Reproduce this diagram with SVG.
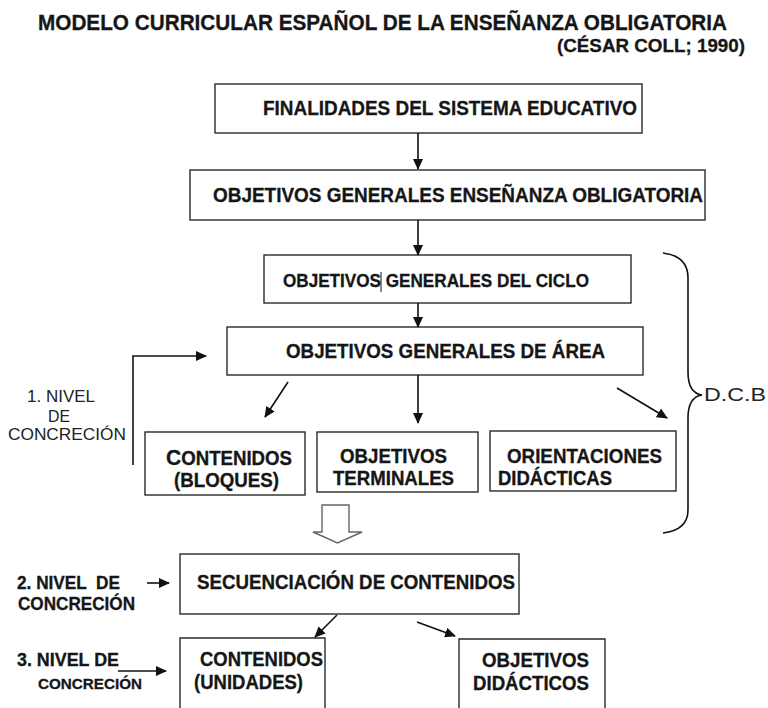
<svg xmlns="http://www.w3.org/2000/svg" width="768" height="708" viewBox="0 0 768 708">
<defs>
<style>
.box{fill:#fff;stroke:#2a2a2a;stroke-width:1.4}
.t{font-family:"Liberation Sans",Arial,sans-serif;font-weight:bold;fill:#161616;stroke:#161616;stroke-width:0.3}
.r{font-family:"Liberation Sans",Arial,sans-serif;fill:#222}
.ln{fill:none;stroke:#111;stroke-width:1.6}
</style>
<marker id="ah" markerUnits="userSpaceOnUse" markerWidth="11" markerHeight="10" refX="10" refY="5" orient="auto" viewBox="0 0 11 10">
<path d="M0,0 L11,5 L0,10 z" fill="#111"/>
</marker>
</defs>
<rect width="768" height="708" fill="#fff"/>
<g id="title">
<text class="t" x="38" y="30" font-size="21.5" textLength="689" lengthAdjust="spacingAndGlyphs">MODELO CURRICULAR ESPAÑOL DE LA ENSEÑANZA OBLIGATORIA</text>
<text class="t" x="557" y="52" font-size="19" textLength="188" lengthAdjust="spacingAndGlyphs">(CÉSAR COLL; 1990)</text>
</g>
<g id="n-finalidades">
<rect class="box" x="215" y="84" width="427" height="49"/>
<text class="t" x="263" y="115" font-size="20" textLength="374" lengthAdjust="spacingAndGlyphs">FINALIDADES DEL SISTEMA EDUCATIVO</text>
</g>
<g id="n-ogeo">
<rect class="box" x="190" y="170" width="515" height="50"/>
<text class="t" x="213" y="202" font-size="20" textLength="490" lengthAdjust="spacingAndGlyphs">OBJETIVOS GENERALES ENSEÑANZA OBLIGATORIA</text>
</g>
<g id="n-ciclo">
<rect class="box" x="264" y="255" width="367" height="48"/>
<text class="t" x="283" y="287" font-size="18" textLength="306" lengthAdjust="spacingAndGlyphs">OBJETIVOS GENERALES DEL CICLO</text>
<line x1="381" y1="272" x2="381" y2="292" stroke="#111" stroke-width="1"/>
</g>
<g id="n-area">
<rect class="box" x="227" y="327" width="416" height="48"/>
<text class="t" x="286" y="358" font-size="19.5" textLength="319" lengthAdjust="spacingAndGlyphs">OBJETIVOS GENERALES DE ÁREA</text>
</g>
<g id="n-bloques">
<rect class="box" x="145" y="432" width="160" height="63"/>
<text class="t" x="166" y="465" font-size="19.5" textLength="126" lengthAdjust="spacingAndGlyphs"><tspan font-size="22">C</tspan>ONTENIDOS</text>
<text class="t" x="174" y="487" font-size="19.5" textLength="105" lengthAdjust="spacingAndGlyphs">(BLOQUES)</text>
</g>
<g id="n-terminales">
<rect class="box" x="317" y="432" width="161" height="60"/>
<text class="t" x="340" y="463" font-size="19.5" textLength="107" lengthAdjust="spacingAndGlyphs">OBJETIVOS</text>
<text class="t" x="333" y="485" font-size="19.5" textLength="121" lengthAdjust="spacingAndGlyphs">TERMINALES</text>
</g>
<g id="n-orientaciones">
<rect class="box" x="490" y="431" width="186" height="60"/>
<text class="t" x="507" y="463" font-size="19.5" textLength="155" lengthAdjust="spacingAndGlyphs">ORIENTACIONES</text>
<text class="t" x="498" y="485" font-size="19.5" textLength="114" lengthAdjust="spacingAndGlyphs">DIDÁCTICAS</text>
</g>
<g id="n-secuenciacion">
<rect class="box" x="180" y="554" width="339" height="60"/>
<text class="t" x="197" y="589" font-size="19.5" textLength="318" lengthAdjust="spacingAndGlyphs">SECUENCIACIÓN DE CONTENIDOS</text>
</g>
<g id="n-unidades">
<path class="box" d="M180,712 V638 H325 V712"/>
<text class="t" x="200" y="666" font-size="19.5" textLength="123" lengthAdjust="spacingAndGlyphs">CONTENIDOS</text>
<text class="t" x="194" y="689" font-size="19.5" textLength="109" lengthAdjust="spacingAndGlyphs">(UNIDADES)</text>
</g>
<g id="n-didacticos">
<path class="box" d="M459,712 V639 H605 V712"/>
<text class="t" x="482" y="667" font-size="19.5" textLength="107" lengthAdjust="spacingAndGlyphs">OBJETIVOS</text>
<text class="t" x="473" y="690" font-size="19.5" textLength="116" lengthAdjust="spacingAndGlyphs">DIDÁCTICOS</text>
</g>
<g id="n-dcb">
<path class="ln" stroke="#333" stroke-width="1.5" d="M663,253 Q688,256 688,278 V372 Q688,393 702,395 Q688,397 688,418 V510 Q688,530 663,533"/>
<text class="r" x="704" y="401" font-size="19" textLength="62" lengthAdjust="spacingAndGlyphs">D.C.B</text>
</g>
<g id="labels">
<text class="r" x="27" y="402" font-size="17" textLength="68" lengthAdjust="spacingAndGlyphs">1. NIVEL</text>
<text class="r" x="48" y="422" font-size="17" textLength="22" lengthAdjust="spacingAndGlyphs">DE</text>
<text class="r" x="8" y="440" font-size="17" textLength="118" lengthAdjust="spacingAndGlyphs">CONCRECIÓN</text>
<text class="t" x="17" y="589" font-size="17.5" textLength="103" lengthAdjust="spacingAndGlyphs" xml:space="preserve">2. NIVEL  DE</text>
<text class="t" x="18" y="610" font-size="17.5" textLength="117" lengthAdjust="spacingAndGlyphs">CONCRECIÓN</text>
<text class="t" x="17" y="666" font-size="17.5" textLength="102" lengthAdjust="spacingAndGlyphs">3. NIVEL DE</text>
<text class="t" x="38" y="689" font-size="15.5" textLength="104" lengthAdjust="spacingAndGlyphs">CONCRECIÓN</text>
</g>
<g id="connectors">
<line class="ln" x1="418" y1="133" x2="418" y2="169" marker-end="url(#ah)"/>
<line class="ln" x1="418" y1="220" x2="418" y2="255" marker-end="url(#ah)"/>
<line class="ln" x1="418" y1="303" x2="418" y2="327" marker-end="url(#ah)"/>
<polyline class="ln" points="133,465 133,356 206,356" marker-end="url(#ah)"/>
<line class="ln" x1="288" y1="382" x2="265" y2="417" marker-end="url(#ah)"/>
<line class="ln" x1="418" y1="375" x2="418" y2="423" marker-end="url(#ah)"/>
<line class="ln" x1="617" y1="388" x2="667" y2="418" marker-end="url(#ah)"/>
<path d="M322,505 H349 V532 H362 L337.5,543 L313,532 H322 Z" fill="#fff" stroke="#666" stroke-width="1.4"/>
<line class="ln" x1="147" y1="583" x2="169" y2="583" marker-end="url(#ah)"/>
<line class="ln" x1="337" y1="615" x2="315" y2="637" marker-end="url(#ah)"/>
<line class="ln" x1="417" y1="622" x2="455" y2="636" marker-end="url(#ah)"/>
<line class="ln" x1="118" y1="671" x2="166" y2="671" marker-end="url(#ah)"/>
</g>
</svg>
